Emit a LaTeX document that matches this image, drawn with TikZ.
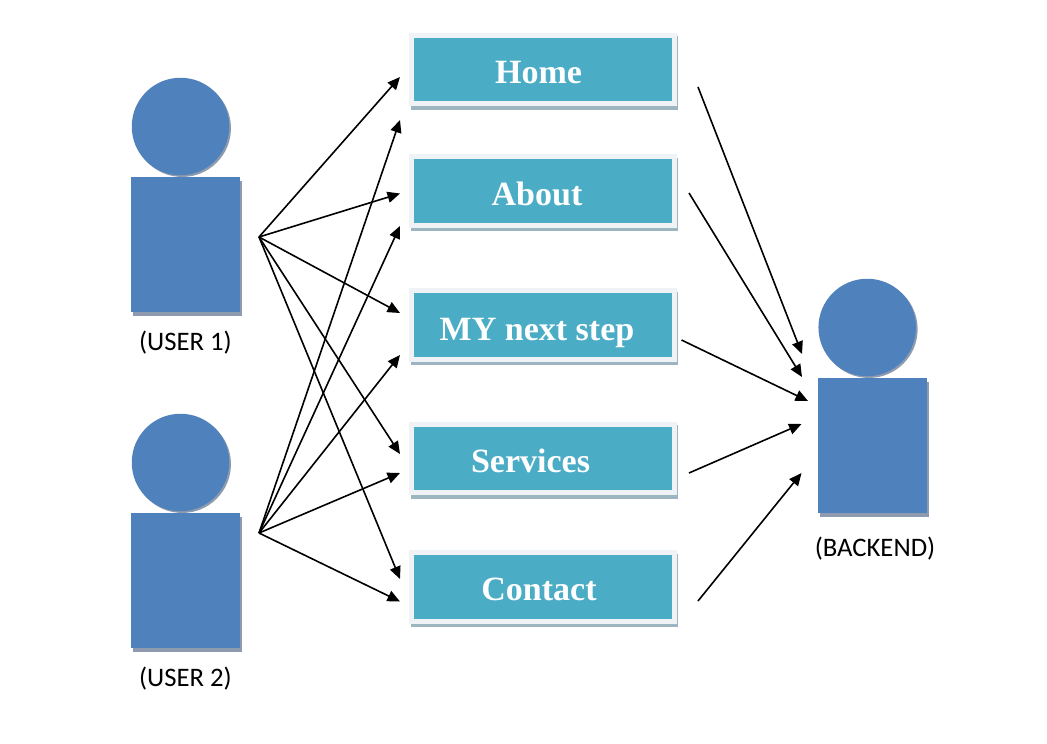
\documentclass[tikz,border=0pt]{standalone}
\usepackage{fontspec}
\setmainfont{Liberation Serif}
\newfontfamily\labelfont{Carlito}
\usetikzlibrary{arrows.meta}
\definecolor{figblue}{HTML}{4F81BD}
\definecolor{figshadow}{HTML}{8E9BAF}
\definecolor{teal}{HTML}{4BACC6}
\definecolor{boxrim}{HTML}{EFF3F5}
\definecolor{boxshadow}{HTML}{9DB5C0}
\tikzset{
  x=1pt,y=-1pt,
  arrowline/.style={draw=black,line width=1.6pt,-{Triangle[length=12.5pt,width=11pt]}},
  personhead/.style={circle,fill=figblue,minimum size=97.5pt,inner sep=0pt},
  headshadow/.style={circle,fill=figshadow,minimum size=97.5pt,inner sep=0pt},
  personbody/.style={rectangle,fill=figblue,minimum width=109pt,minimum height=135pt,inner sep=0pt},
  bodyshadow/.style={rectangle,fill=figshadow,minimum width=109pt,minimum height=135pt,inner sep=0pt},
  rim/.style={rectangle,fill=boxrim,minimum width=268pt,minimum height=73.5pt,inner sep=0pt},
  rimshadow/.style={rectangle,fill=boxshadow,minimum width=267pt,minimum height=73.5pt,inner sep=0pt},
  menubox/.style={rectangle,fill=teal,minimum width=258pt,minimum height=63.5pt,inner sep=0pt},
  menutext/.style={text=white,font=\fontsize{34}{34}\selectfont\bfseries,inner sep=0pt,anchor=base},
  caption/.style={text=black,font=\labelfont\fontsize{26.7}{26.7}\selectfont,inner sep=0pt,anchor=base},
}
\newcommand{\menuitem}[5]{%
  \node[rimshadow] at (544.7,#2+3.5) {};
  \node[rim] at (543,#2) {};
  \node[menubox] (#1) at (543,#2) {};
  \node[menutext] (#1t) at (#4,#5) {#3};
}
\newcommand{\person}[3]{%
  \node[headshadow] at (#2+1.7,#3+1.7) {};
  \node[personhead] (#1h) at (#2,#3) {};
  \node[bodyshadow] at (#2+7,#3+121.5) {};
  \node[personbody] (#1b) at (#2+5,#3+118) {};
}
\begin{document}
\begin{tikzpicture}
\useasboundingbox (0,0) rectangle (1047,744);
\fill[white] (0,0) rectangle (1047,744);
\person{ua}{180.5}{126.5}
\person{ub}{180.5}{462.5}
\person{be}{867.2}{327.5}
\node[caption] (c1) at (185.5,350) {(USER 1)};
\node[caption] (c2) at (185.5,686) {(USER 2)};
\node[caption] (c3) at (875,556) {(BACKEND)};
\menuitem{home}{69.5}{Home}{538.5}{83}
\menuitem{about}{191}{About}{537}{205}
\menuitem{next}{325}{MY next step}{537}{340}
\menuitem{serv}{458.5}{Services}{530.5}{472}
\menuitem{cont}{587}{Contact}{539}{600}
\coordinate (s1) at (259,237);
\coordinate (s2) at (259,533);
\foreach \n/\x/\y in {a/400/77,b/400/193.5,c/400/313,d/400/454,e/400/579}
  \draw[arrowline] (s1) -- (\x,\y) coordinate (ea\n);
\foreach \n/\x/\y in {a/400/120,b/400/226,c/400/355,d/400/473,e/400/601.5}
  \draw[arrowline] (s2) -- (\x,\y) coordinate (eb\n);
\coordinate (r1) at (698,87);
\coordinate (r2) at (689,193);
\coordinate (r3) at (681.5,340);
\coordinate (r4) at (689,473);
\coordinate (r5) at (698,601);
\coordinate (t1) at (802,354);
\coordinate (t2) at (802,377);
\coordinate (t3) at (808,401);
\coordinate (t4) at (801.5,424);
\coordinate (t5) at (801.5,473);
\foreach \i in {1,...,5}
  \draw[arrowline] (r\i) -- (t\i);
\end{tikzpicture}
\end{document}
